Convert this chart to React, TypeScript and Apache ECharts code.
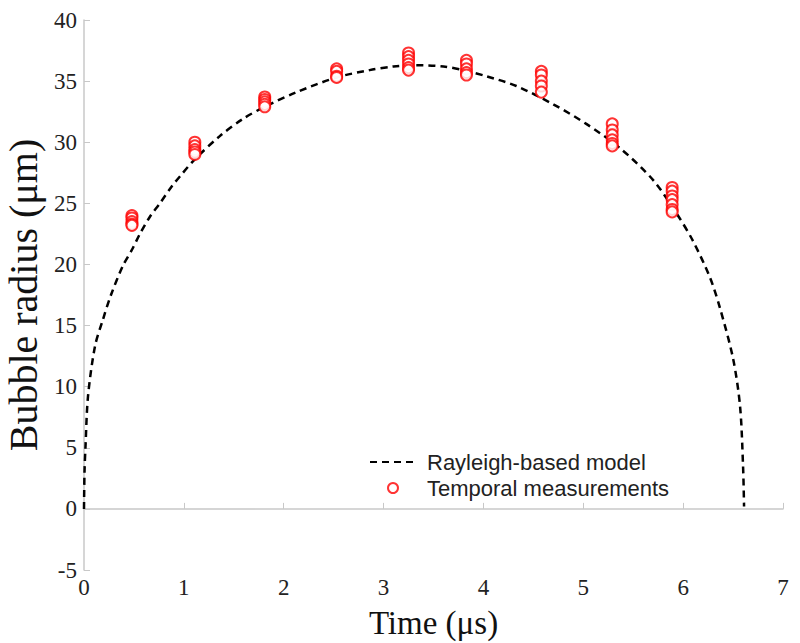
import React, { useEffect, useRef } from "react";
import * as echarts from "echarts";

// Rayleigh-based model curve (time µs, radius µm)
const modelTime = [0, 0.005, 0.015, 0.04, 0.11, 0.19, 0.27, 0.39, 0.48, 0.56, 0.66, 0.76, 0.88, 0.96, 1.11, 1.36, 1.59, 1.81, 2.13, 2.53, 2.86, 3.1, 3.3, 3.6, 3.8, 4.03, 4.33, 4.7, 5.03, 5.37, 5.7, 5.94, 6.1, 6.27, 6.37, 6.5, 6.57, 6.6, 6.61];
const modelRadius = [0, 3.0, 5.1, 9.2, 13.3, 15.5, 17.5, 19.9, 21.2, 22.5, 23.9, 25.0, 26.4, 27.2, 28.6, 30.5, 31.9, 32.9, 34.1, 35.3, 35.9, 36.2, 36.3, 36.2, 35.9, 35.4, 34.6, 33.1, 31.5, 29.5, 26.9, 24.1, 21.9, 18.9, 16.4, 12.3, 8.4, 3.5, 0.2];

// Temporal measurements: time of each group and the radii measured at it
const measTimes = [0.48, 1.11, 1.81, 2.53, 3.25, 3.83, 4.58, 5.29, 5.89];
const measRadii = [
  [24.0, 23.8, 23.5, 23.3, 23.2],
  [30.0, 29.7, 29.4, 29.2, 29.0],
  [33.7, 33.5, 33.3, 33.1, 32.9],
  [36.0, 35.8, 35.4, 35.3],
  [37.3, 37.0, 36.7, 36.4, 36.1, 35.9],
  [36.7, 36.4, 36.0, 35.7, 35.5],
  [35.8, 35.5, 35.0, 34.6, 34.1],
  [31.5, 31.0, 30.6, 30.2, 29.9, 29.7],
  [26.3, 26.0, 25.6, 25.3, 24.9, 24.5, 24.3],
];

const xTicks = [0, 1, 2, 3, 4, 5, 6, 7];
const yTicks = [-5, 0, 5, 10, 15, 20, 25, 30, 35, 40];

const serif = '"Liberation Serif", "Times New Roman", Times, serif';
const sans = '"Liberation Sans", Arial, Helvetica, sans-serif';

export default function App() {
  const ref = useRef<HTMLDivElement>(null);
  useEffect(() => {
    if (!ref.current) return;
    const chart = echarts.init(ref.current, null, { renderer: "svg" });
    const modelData = modelTime.map((t, i) => [t, modelRadius[i]]);
    const measData: number[][] = [];
    measTimes.forEach((t, i) => measRadii[i].forEach((r) => measData.push([t, r])));
    const axisCommon = {
      axisLine: { show: true, lineStyle: { color: "#c8c8c8", width: 1.5 } },
      axisTick: { show: true, inside: true, length: 6, lineStyle: { color: "#c8c8c8", width: 1 } },
      splitLine: { show: false },
      axisLabel: { fontFamily: serif, fontSize: 23, color: "#222" },
      nameTextStyle: { fontFamily: serif, color: "#111" },
    };
    chart.setOption({
      animation: false,
      backgroundColor: "#fff",
      grid: { left: 84, right: 17, top: 20, bottom: 73, containLabel: false, outerBoundsMode: "none" },
      legend: {
        orient: "vertical",
        left: 364,
        top: 446,
        itemWidth: 46,
        itemHeight: 10,
        itemGap: 4,
        textStyle: { fontFamily: sans, fontSize: 22, color: "#222", padding: [0, 0, 0, 6] },
        data: [
          { name: "Rayleigh-based model", itemStyle: { color: "rgba(0,0,0,0)", borderColor: "rgba(0,0,0,0)", borderWidth: 0 } },
          { name: "Temporal measurements" },
        ],
      },
      xAxis: {
        type: "value",
        min: xTicks[0],
        max: xTicks[xTicks.length - 1],
        interval: 1,
        name: "Time (μs)",
        nameLocation: "middle",
        nameGap: 36,
        ...axisCommon,
        axisLabel: { ...axisCommon.axisLabel, margin: 6 },
        nameTextStyle: { ...axisCommon.nameTextStyle, fontSize: 33 },
      },
      yAxis: {
        type: "value",
        min: yTicks[0],
        max: yTicks[yTicks.length - 1],
        interval: 5,
        name: "Bubble radius (μm)",
        nameLocation: "middle",
        nameGap: 35,
        ...axisCommon,
        axisLabel: { ...axisCommon.axisLabel, margin: 7 },
        nameTextStyle: { ...axisCommon.nameTextStyle, fontSize: 40 },
      },
      series: [
        {
          name: "Rayleigh-based model",
          type: "line",
          data: modelData,
          symbol: "none",
          smooth: 0.3,
          lineStyle: { color: "#000", width: 2.5, type: [7, 5] },
          itemStyle: { color: "#000" },
          z: 2,
        },
        {
          name: "Temporal measurements",
          type: "scatter",
          data: measData,
          symbol: "emptyCircle",
          symbolSize: 11,
          itemStyle: { color: "#ff0000", borderColor: "#ff0000", borderWidth: 2 },
          z: 3,
        },
      ],
    });
    return () => chart.dispose();
  }, []);
  return (
    <div
      ref={ref}
      style={{ position: "absolute", left: 0, top: 0, width: 800, height: 643, background: "#fff" }}
    />
  );
}
